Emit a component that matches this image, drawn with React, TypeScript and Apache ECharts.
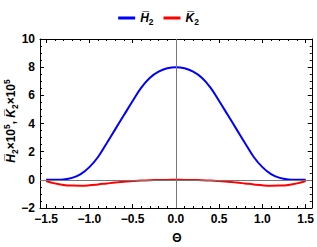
import React, { useEffect, useRef } from "react";
import * as echarts from "echarts";

const theta = [
  -1.5, -1.4, -1.3, -1.2, -1.1, -1.0, -0.9, -0.8, -0.7, -0.6, -0.5, -0.4, -0.3, -0.2, -0.1, 0,
  0.1, 0.2, 0.3, 0.4, 0.5, 0.6, 0.7, 0.8, 0.9, 1.0, 1.1, 1.2, 1.3, 1.4, 1.5,
];
const h2 = [
  0, 0.005, 0.03, 0.14, 0.4, 0.9, 1.62, 2.6, 3.6, 4.6, 5.6, 6.55, 7.25, 7.68, 7.92, 8.0,
  7.92, 7.68, 7.25, 6.55, 5.6, 4.6, 3.6, 2.6, 1.62, 0.9, 0.4, 0.14, 0.03, 0.005, 0,
];
const k2 = [
  -0.08, -0.25, -0.36, -0.41, -0.42, -0.39, -0.33, -0.26, -0.19, -0.13, -0.09, -0.055, -0.03, -0.012, -0.003, 0,
  -0.003, -0.012, -0.03, -0.055, -0.09, -0.13, -0.19, -0.26, -0.33, -0.39, -0.42, -0.41, -0.36, -0.25, -0.08,
];
const xMajorTicks = [-1.5, -1.0, -0.5, 0, 0.5, 1.0, 1.5];
const xMinorTicks = [
  -1.5, -1.4, -1.3, -1.2, -1.1, -1.0, -0.9, -0.8, -0.7, -0.6, -0.5, -0.4, -0.3, -0.2, -0.1, 0,
  0.1, 0.2, 0.3, 0.4, 0.5, 0.6, 0.7, 0.8, 0.9, 1.0, 1.1, 1.2, 1.3, 1.4, 1.5,
];
const yTickValues = [-2, 0, 2, 4, 6, 8, 10];
const seriesNames = ["H2", "K2"];
const legendLabels = ["{it|H\u0305}{sub|2}", "{it|K\u0305}{sub|2}"];
const yTitle = "{it|H\u0305}{sub|2}\u00d710{sup|5}, {it|K\u0305}{sub|2}\u00d710{sup|5}";
const xTitle = "\u0398";

const X_MIN = -1.5708;
const X_MAX = 1.5708;
const FONT = "Liberation Sans, Arial, sans-serif";
const WEIGHT = "bold";

const fmt = (v: number) => v.toFixed(1).replace("-", "\u2212");

export default function App() {
  const ref = useRef<HTMLDivElement>(null);
  useEffect(() => {
    if (!ref.current) return;
    const chart = echarts.init(ref.current, undefined, { renderer: "svg" });
    const black = "#000";
    const richBase = (size: number) => ({
      it: { fontStyle: "italic", fontSize: size, fontFamily: FONT, fontWeight: WEIGHT, lineHeight: size + 4, verticalAlign: "middle" },
      n: { fontSize: size, fontFamily: FONT, fontWeight: WEIGHT, lineHeight: size + 4 },
      sub: { fontSize: size * 0.7, fontFamily: FONT, fontWeight: WEIGHT, verticalAlign: "bottom", lineHeight: size + 4 },
      sup: { fontSize: size * 0.7, fontFamily: FONT, fontWeight: WEIGHT, verticalAlign: "top", lineHeight: size + 4 },
    });
    const baseX = (position: "top" | "bottom", ticks: number[], len: number, line: boolean, labels: boolean) => ({
      type: "value",
      min: X_MIN,
      max: X_MAX,
      position,
      axisLine: { show: line, onZero: false, lineStyle: { color: black, width: 1 } },
      axisTick: { show: true, inside: true, length: len, customValues: ticks, lineStyle: { color: black, width: 1 } },
      axisLabel: labels
        ? { show: true, customValues: xMajorTicks, formatter: (v: number) => fmt(v), color: black, fontSize: 12, fontWeight: WEIGHT, fontFamily: FONT, margin: 5 }
        : { show: false },
      splitLine: { show: false },
    });
    const baseY = (position: "left" | "right", labels: boolean) => ({
      type: "value",
      min: -2,
      max: 10,
      interval: 2,
      position,
      axisLine: { show: true, onZero: false, lineStyle: { color: black, width: 1 } },
      axisTick: { show: true, inside: true, length: 4, lineStyle: { color: black } },
      minorTick: { show: true, splitNumber: 4, length: 2, lineStyle: { color: black } },
      axisLabel: labels
        ? { show: true, customValues: yTickValues, formatter: (v: number) => String(v).replace("-", "\u2212"), color: black, fontSize: 12, fontWeight: WEIGHT, fontFamily: FONT, margin: 5 }
        : { show: false },
      splitLine: { show: false },
    });
    const toPairs = (vals: number[]) => theta.map((t, i) => [t, vals[i]]);
    chart.setOption({
      animation: false,
      grid: { left: 40, right: 3, top: 39, bottom: 39, containLabel: false },
      legend: {
        top: 7,
        left: "center",
        itemWidth: 17,
        itemHeight: 3,
        itemGap: 10,
        icon: "rect",
        data: seriesNames,
        formatter: (name: string) => legendLabels[seriesNames.indexOf(name)],
        textStyle: {
          fontSize: 12,
          fontFamily: FONT,
          fontWeight: WEIGHT,
          color: black,
          rich: richBase(12),
        },
      },
      xAxis: [
        baseX("bottom", xMajorTicks, 4, true, true),
        baseX("top", xMajorTicks, 4, true, false),
        baseX("bottom", xMinorTicks, 2, false, false),
        baseX("top", xMinorTicks, 2, false, false),
      ],
      yAxis: [baseY("left", true), baseY("right", false)],
      graphic: [
        {
          type: "text",
          x: 11,
          y: 121,
          rotation: Math.PI / 2,
          style: {
            text: yTitle,
            align: "center",
            verticalAlign: "middle",
            fontSize: 12,
            fontFamily: FONT,
            fontWeight: WEIGHT,
            fill: black,
            rich: richBase(12),
          },
        },
        {
          type: "text",
          x: 177,
          y: 238,
          style: { text: xTitle, align: "center", verticalAlign: "middle", fontSize: 12, fontWeight: WEIGHT, fontFamily: FONT, fill: black },
        },
      ],
      series: [
        {
          name: seriesNames[0],
          type: "line",
          xAxisIndex: 0,
          yAxisIndex: 0,
          data: toPairs(h2),
          smooth: 0.4,
          showSymbol: false,
          lineStyle: { color: "#0000ff", width: 2 },
          itemStyle: { color: "#0000ff" },
          z: 3,
          markLine: {
            silent: true,
            symbol: "none",
            label: { show: false },
            lineStyle: { color: "#777", width: 1, type: "solid" },
            data: [{ xAxis: 0 }, { yAxis: 0 }],
          },
        },
        {
          name: seriesNames[1],
          type: "line",
          xAxisIndex: 0,
          yAxisIndex: 0,
          data: toPairs(k2),
          smooth: 0.4,
          showSymbol: false,
          lineStyle: { color: "#ff0000", width: 2 },
          itemStyle: { color: "#ff0000" },
          z: 4,
        },
      ],
    });
    return () => chart.dispose();
  }, []);
  return <div ref={ref} style={{ width: 317, height: 247, position: "absolute", left: 0, top: 0 }} />;
}
